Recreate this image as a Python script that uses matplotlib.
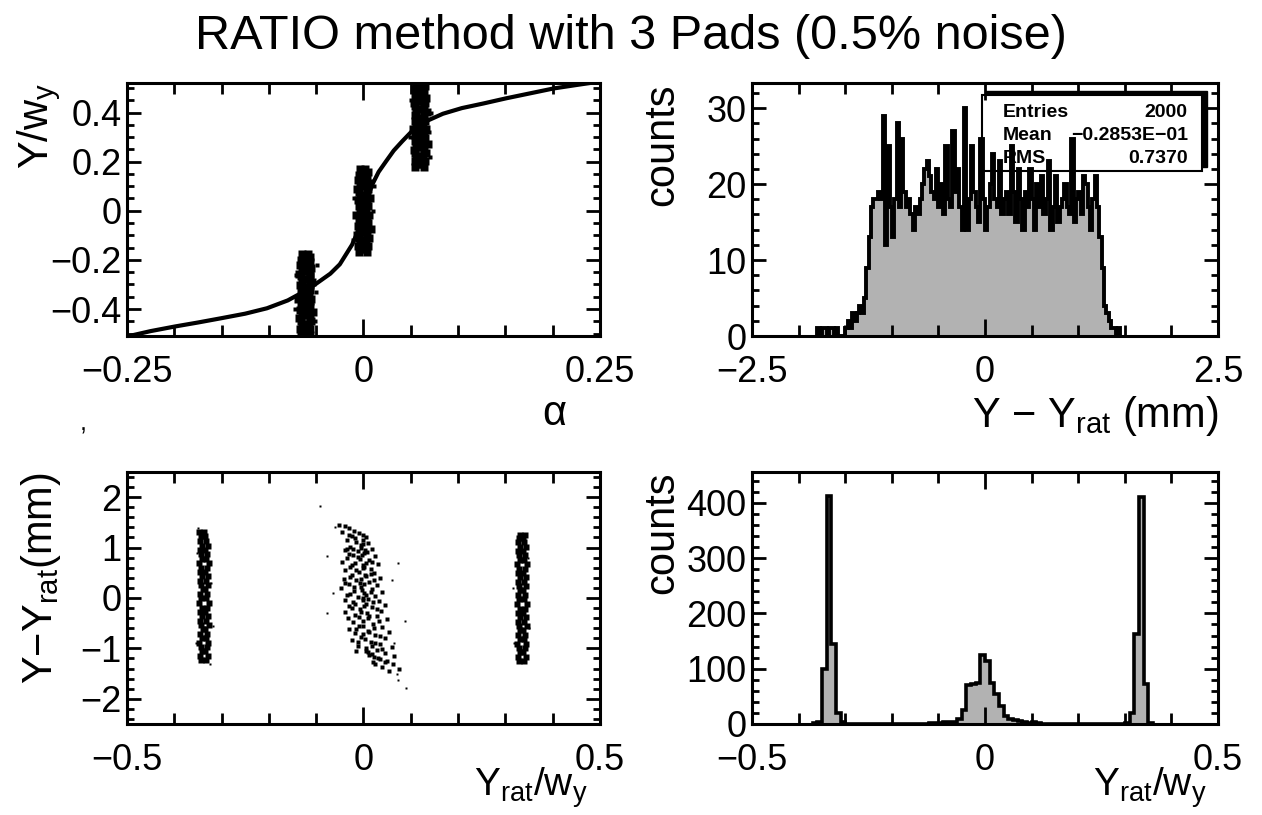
import matplotlib.pyplot as plt
import numpy as np
from matplotlib.patches import Rectangle
from matplotlib.ticker import MultipleLocator, FuncFormatter

plt.rcParams['font.family'] = ['Liberation Sans', 'DejaVu Sans']
plt.rcParams['mathtext.fontset'] = 'custom'
plt.rcParams['mathtext.rm'] = 'Liberation Sans'
plt.rcParams['mathtext.it'] = 'Liberation Sans:italic'
plt.rcParams['mathtext.default'] = 'regular'

# ---- top left: Y/w_y vs alpha ----
curve_alpha = [-0.250, -0.242, -0.225, -0.199, -0.175, -0.151, -0.125, -0.102, -0.080,
               -0.060, -0.050, -0.035, -0.025, -0.018, -0.012, -0.007, -0.001, 0.004,
               0.0095, 0.016, 0.024, 0.032, 0.041, 0.052, 0.066, 0.084, 0.104, 0.127,
               0.151, 0.176, 0.201, 0.225, 0.248]
curve_yw = [-0.512, -0.505, -0.490, -0.471, -0.455, -0.438, -0.419, -0.397, -0.365,
            -0.323, -0.297, -0.256, -0.218, -0.175, -0.138, -0.094, -0.013, 0.050,
            0.108, 0.158, 0.202, 0.245, 0.283, 0.327, 0.364, 0.395, 0.418, 0.437,
            0.458, 0.478, 0.498, 0.512, 0.525]

ya = [-0.505, -0.494, -0.482, -0.471, -0.460, -0.448, -0.437, -0.426, -0.414, -0.403,
      -0.392, -0.380, -0.369, -0.358, -0.346, -0.335, -0.324, -0.312, -0.301, -0.290,
      -0.278, -0.267, -0.256, -0.244, -0.233, -0.222, -0.210, -0.199, -0.188, -0.176]
xa1 = [-0.066, -0.064, -0.067, -0.065, -0.063, -0.066, -0.068, -0.064, -0.065, -0.067,
       -0.063, -0.066, -0.064, -0.069, -0.065, -0.063, -0.066, -0.064, -0.067, -0.065,
       -0.063, -0.066, -0.068, -0.064, -0.065, -0.067, -0.063, -0.066, -0.064, -0.065]
xa2 = [-0.057, -0.059, -0.056, -0.058, -0.060, -0.055, -0.057, -0.059, -0.053, -0.058,
       -0.056, -0.059, -0.057, -0.055, -0.058, -0.060, -0.056, -0.058, -0.057, -0.054,
       -0.059, -0.057, -0.056, -0.058, -0.055, -0.059, -0.057, -0.058, -0.056, -0.059]
yb = [-0.168, -0.156, -0.145, -0.133, -0.121, -0.110, -0.098, -0.086, -0.075, -0.063,
      -0.051, -0.040, -0.028, -0.016, -0.005, 0.007, 0.019, 0.030, 0.042, 0.054,
      0.065, 0.077, 0.089, 0.100, 0.112, 0.124, 0.135, 0.147, 0.159, 0.170]
xb1 = [-0.005, -0.003, -0.006, -0.004, -0.002, -0.005, -0.007, -0.003, -0.004, -0.006,
       -0.002, -0.005, -0.003, -0.008, -0.004, -0.002, -0.005, -0.003, -0.006, -0.004,
       -0.002, -0.005, -0.007, -0.003, -0.004, -0.006, -0.002, -0.005, -0.003, -0.004]
xb2 = [0.004, 0.002, 0.005, 0.003, 0.001, 0.006, 0.004, 0.002, 0.008, 0.003,
       0.005, 0.002, 0.004, 0.006, 0.003, 0.001, 0.005, 0.003, 0.004, 0.007,
       0.002, 0.004, 0.005, 0.003, 0.006, 0.002, 0.004, 0.003, 0.005, 0.002]
yc = [0.178, 0.190, 0.202, 0.213, 0.225, 0.237, 0.249, 0.260, 0.272, 0.284,
      0.296, 0.307, 0.319, 0.331, 0.343, 0.354, 0.366, 0.378, 0.390, 0.401,
      0.413, 0.425, 0.437, 0.448, 0.460, 0.472, 0.484, 0.495, 0.507, 0.518]
xc1 = [0.055, 0.057, 0.054, 0.056, 0.058, 0.055, 0.053, 0.057, 0.056, 0.054,
       0.058, 0.055, 0.057, 0.052, 0.056, 0.058, 0.055, 0.057, 0.054, 0.056,
       0.058, 0.055, 0.053, 0.057, 0.056, 0.054, 0.058, 0.055, 0.057, 0.056]
xc2 = [0.064, 0.062, 0.065, 0.063, 0.061, 0.066, 0.064, 0.062, 0.068, 0.063,
       0.065, 0.062, 0.064, 0.066, 0.063, 0.061, 0.065, 0.063, 0.064, 0.067,
       0.062, 0.064, 0.065, 0.063, 0.066, 0.062, 0.064, 0.063, 0.065, 0.062]
tl_out_x = [-0.072, -0.050, -0.051, -0.071, -0.049, -0.010, 0.009, 0.011, -0.011, 0.010,
            0.070, 0.049, 0.071, 0.050, 0.069]
tl_out_y = [-0.40, -0.33, -0.45, -0.26, -0.22, 0.05, -0.08, 0.10, -0.12, 0.00,
            0.22, 0.30, 0.40, 0.45, 0.32]

# ---- top right: Y - Y_rat histogram (bin 0.025 mm, first bin at -1.8) ----
dy_first = -1.8
dy_width = 0.025
dy_counts = [1, 0, 1, 1, 0, 1, 1, 0, 1, 0, 0, 0, 1, 2, 1, 3, 2, 3, 4, 3, 5,
             9, 13, 17, 18, 18, 19, 18, 29, 12, 25, 17, 13, 18, 28, 17, 26, 19, 17, 18,
             16, 14, 17, 16, 18, 20, 22, 23, 21, 19, 18, 22, 17, 20, 16, 25, 18, 17, 27,
             19, 22, 17, 14, 30, 14, 18, 25, 19, 17, 15, 26, 18, 14, 17, 20, 24, 18, 17,
             23, 16, 18, 19, 16, 25, 19, 15, 22, 18, 14, 19, 17, 22, 18, 14, 20, 17, 21,
             16, 18, 23, 14, 17, 21, 15, 17, 18, 20, 17, 16, 26, 15, 18, 19, 16, 21, 20,
             17, 14, 18, 21, 17, 13, 9, 4, 3, 2, 1, 1, 0, 1]
stat_names = ['Entries', 'Mean', 'RMS']
stat_values = ['2000', '\u22120.2853E\u221201', '0.7370']

# ---- bottom left: Y - Y_rat vs Y_rat/w_y ----
yl = [-1.24, -1.15, -1.06, -0.98, -0.89, -0.80, -0.71, -0.62, -0.54, -0.45,
      -0.36, -0.27, -0.19, -0.10, -0.01, 0.08, 0.17, 0.25, 0.34, 0.43,
      0.52, 0.60, 0.69, 0.78, 0.87, 0.96, 1.04, 1.13, 1.22, 1.30]
xl1 = [-0.343, -0.346, -0.341, -0.344, -0.347, -0.342, -0.345, -0.340, -0.344, -0.346,
       -0.342, -0.345, -0.341, -0.347, -0.343, -0.345, -0.340, -0.344, -0.346, -0.342,
       -0.345, -0.343, -0.347, -0.341, -0.344, -0.346, -0.342, -0.345, -0.343, -0.348]
xl2 = [-0.332, -0.329, -0.334, -0.331, -0.328, -0.333, -0.330, -0.335, -0.327, -0.332,
       -0.329, -0.334, -0.331, -0.326, -0.333, -0.330, -0.335, -0.328, -0.332, -0.329,
       -0.334, -0.331, -0.327, -0.333, -0.330, -0.335, -0.329, -0.332, -0.334, -0.338]
yr = [-1.26, -1.17, -1.08, -0.99, -0.91, -0.82, -0.73, -0.64, -0.56, -0.47,
      -0.38, -0.29, -0.21, -0.12, -0.03, 0.06, 0.15, 0.23, 0.32, 0.41,
      0.50, 0.58, 0.67, 0.76, 0.85, 0.94, 1.02, 1.11, 1.19, 1.25]
xr1 = [0.329, 0.326, 0.331, 0.328, 0.325, 0.330, 0.327, 0.332, 0.328, 0.326,
       0.330, 0.327, 0.331, 0.325, 0.329, 0.327, 0.332, 0.328, 0.326, 0.330,
       0.327, 0.329, 0.325, 0.331, 0.328, 0.326, 0.330, 0.327, 0.329, 0.330]
xr2 = [0.340, 0.343, 0.338, 0.341, 0.344, 0.339, 0.342, 0.337, 0.345, 0.340,
       0.343, 0.338, 0.341, 0.346, 0.339, 0.342, 0.337, 0.344, 0.340, 0.343,
       0.338, 0.341, 0.345, 0.339, 0.342, 0.337, 0.343, 0.340, 0.338, 0.341]
mid_x = [-0.052, -0.040, -0.030, -0.020, -0.045, -0.010, -0.025, 0.005, -0.035, -0.015,
         0.010, -0.005, -0.028, 0.018, -0.040, -0.012, 0.002, -0.022, 0.025, -0.034,
         -0.008, 0.012, -0.045, -0.018, 0.030, 0.000, -0.028, 0.015, -0.038, -0.010,
         0.022, -0.025, 0.005, 0.035, -0.042, -0.015, 0.012, -0.030, 0.028, -0.005,
         -0.048, 0.018, -0.020, 0.040, 0.002, -0.035, 0.025, -0.012, 0.010, -0.040,
         0.032, -0.022, 0.005, 0.045, -0.030, 0.018, -0.008, 0.038, -0.040, 0.008,
         -0.018, 0.028, -0.032, 0.050, 0.000, -0.022, 0.020, -0.010, 0.040, -0.030,
         0.010, 0.055, -0.018, 0.025, -0.005, 0.045, -0.025, 0.015, 0.035, -0.012,
         0.060, 0.005, 0.028, -0.015, 0.045, 0.012, 0.065, 0.030, 0.050, 0.020,
         0.062, 0.040, 0.075, 0.055,
         -0.002, 0.000, -0.006, 0.004, -0.004, 0.006, -0.002, 0.004, -0.006, 0.002,
         -0.004, 0.006, -0.002, 0.002, -0.005, 0.010, 0.000, 0.012, 0.004, 0.018,
         0.010, 0.022,
         -0.030, -0.018, 0.000, -0.022, 0.008, -0.030, -0.012, 0.018, -0.025, 0.002,
         -0.015, 0.015, -0.028, 0.022, -0.008, -0.020, 0.015, -0.028, 0.000, 0.020,
         -0.018, 0.028, -0.025, 0.012, -0.010, 0.032, -0.015, 0.022, 0.000, 0.035,
         -0.012, 0.025, 0.005, 0.040, 0.018, 0.035, 0.025, 0.045, -0.035, -0.040]
mid_y = [1.45, 1.42, 1.38, 1.33, 1.30, 1.28, 1.22, 1.20, 1.15, 1.12,
         1.10, 1.05, 1.02, 0.98, 0.95, 0.93, 0.90, 0.86, 0.84, 0.80,
         0.78, 0.75, 0.72, 0.70, 0.68, 0.65, 0.62, 0.58, 0.55, 0.52,
         0.50, 0.46, 0.43, 0.40, 0.38, 0.35, 0.32, 0.28, 0.25, 0.22,
         0.20, 0.18, 0.14, 0.12, 0.10, 0.06, 0.04, 0.02, -0.02, -0.04,
         -0.06, -0.08, -0.12, -0.14, -0.16, -0.18, -0.22, -0.25, -0.27, -0.30,
         -0.33, -0.36, -0.40, -0.42, -0.45, -0.48, -0.52, -0.56, -0.58, -0.62,
         -0.65, -0.68, -0.70, -0.74, -0.78, -0.80, -0.84, -0.88, -0.92, -0.95,
         -0.98, -1.00, -1.04, -1.06, -1.10, -1.13, -1.16, -1.20, -1.25, -1.28,
         -1.32, -1.36, -1.40, -1.45,
         1.25, 1.15, 1.00, 0.95, 0.85, 0.70, 0.60, 0.45, 0.38, 0.28,
         0.15, 0.05, -0.05, -0.15, -0.28, -0.40, -0.55, -0.68, -0.82, -0.95,
         -1.08, -1.18,
         1.25, 1.18, 1.08, 0.98, 0.92, 0.88, 0.82, 0.72, 0.66, 0.62,
         0.55, 0.48, 0.42, 0.36, 0.30, 0.22, 0.12, 0.08, 0.00, -0.08,
         -0.12, -0.22, -0.20, -0.35, -0.38, -0.45, -0.62, -0.60, -0.72, -0.75,
         -0.88, -0.90, -1.05, -1.02, -1.12, -1.22, -1.32, -1.28, 0.98, 0.30]
bl_out_x = [-0.091, -0.078, -0.078, 0.074, 0.087, 0.060, 0.074, 0.091, 0.070, -0.060,
            -0.065, 0.065, -0.352, -0.322, -0.318, -0.353, -0.325, -0.350,
            0.316, 0.350, 0.348, 0.318]
bl_out_y = [1.82, 0.83, -0.30, 0.70, -0.46, 0.35, -1.62, -1.79, -1.50, 1.40,
            0.10, -0.90, 0.90, 0.30, -0.55, -0.90, -1.32, 1.38,
            0.20, -0.60, 0.80, -0.90]

# ---- bottom right: Y_rat/w_y histogram (bin 0.01, first bin at -0.37) ----
yr_first = -0.37
yr_width = 0.01
yr_counts = [1, 3, 100, 412, 145, 20, 3, 0, 0, 0,
             0, 0, 0, 0, 0, 0, 0, 0, 0, 0,
             0, 0, 0, 0, 0, 1, 2, 2, 3, 3,
             4, 9, 26, 70, 72, 75, 125, 114, 74, 55,
             33, 14, 9, 7, 5, 3, 2, 4, 1, 0,
             0, 0, 0, 0, 0, 0, 0, 0, 0, 0,
             0, 0, 0, 0, 0, 0, 0, 2, 20, 162,
             411, 72, 2]


def tick_fmt(v, pos):
    if abs(v) < 1e-9:
        return '0'
    return ('%g' % v).replace('-', '\u2212')


fig = plt.figure(figsize=(12.62, 8.15), dpi=100)
ax_tl = fig.add_axes([0.1006, 0.5877, 0.3748, 0.3104])
ax_tr = fig.add_axes([0.5959, 0.5877, 0.3693, 0.3104])
ax_bl = fig.add_axes([0.1006, 0.1117, 0.3748, 0.3092])
ax_br = fig.add_axes([0.5959, 0.1117, 0.3693, 0.3092])

fill_col = '#b2b2b2'

# top left
ax_tl.plot(xa1 + xa2, ya + ya, 's', ms=5.2, color='k', mec='none')
ax_tl.plot(xb1 + xb2, yb + yb, 's', ms=5.2, color='k', mec='none')
ax_tl.plot(xc1 + xc2, yc + yc, 's', ms=5.2, color='k', mec='none')
ax_tl.plot(tl_out_x, tl_out_y, 's', ms=2.2, color='k', mec='none')
ax_tl.plot(curve_alpha, curve_yw, color='k', lw=3)
ax_tl.set_xlim(-0.25, 0.25)
ax_tl.set_ylim(-0.51, 0.52)
ax_tl.xaxis.set_major_locator(MultipleLocator(0.25))
ax_tl.xaxis.set_minor_locator(MultipleLocator(0.05))
ax_tl.yaxis.set_major_locator(MultipleLocator(0.2))
ax_tl.yaxis.set_minor_locator(MultipleLocator(0.05))
ax_tl.set_ylabel('Y/w$_y$', loc='top')
ax_tl.yaxis.set_label_coords(-0.135, 1.0)
ax_tl.set_xlabel(r'$\alpha$', loc='right')
ax_tl.xaxis.set_label_coords(0.93, -0.23)

# top right
dy_edges = dy_first + dy_width * np.arange(len(dy_counts) + 1)
ax_tr.stairs(dy_counts, dy_edges, fill=True, color=fill_col)
ax_tr.stairs(dy_counts, dy_edges, color='k', lw=2.8)
ax_tr.set_xlim(-2.5, 2.5)
ax_tr.set_ylim(0, 33.3)
ax_tr.xaxis.set_major_locator(MultipleLocator(2.5))
ax_tr.xaxis.set_minor_locator(MultipleLocator(0.5))
ax_tr.yaxis.set_major_locator(MultipleLocator(10))
ax_tr.yaxis.set_minor_locator(MultipleLocator(2))
ax_tr.set_ylabel('counts', loc='top')
ax_tr.yaxis.set_label_coords(-0.15, 1.0)
ax_tr.set_xlabel('Y $-$ Y$_{rat}$ (mm)', loc='right')
ax_tr.xaxis.set_label_coords(1.0, -0.23)
ax_tr.add_patch(Rectangle((0.503, 0.668), 0.473, 0.301, transform=ax_tr.transAxes,
                          facecolor='k', edgecolor='k', zorder=0.4))
ax_tr.add_patch(Rectangle((0.493, 0.653), 0.473, 0.301, transform=ax_tr.transAxes,
                          facecolor='white', edgecolor='k', lw=1.5, zorder=0.5))
for i, (name, val) in enumerate(zip(stat_names, stat_values)):
    yy = 0.882 - 0.09 * i
    ax_tr.text(0.538, yy, name, transform=ax_tr.transAxes, fontsize=14,
               fontweight='bold', va='center', ha='left', zorder=6)
    ax_tr.text(0.935, yy, val, transform=ax_tr.transAxes, fontsize=14,
               fontweight='bold', va='center', ha='right', zorder=6)

# bottom left
ax_bl.plot(xl1 + xl2, yl + yl, 's', ms=4.0, color='k', mec='none')
ax_bl.plot(xr1 + xr2, yr + yr, 's', ms=4.0, color='k', mec='none')
ax_bl.plot(mid_x, mid_y, 's', ms=3.3, color='k', mec='none')
ax_bl.plot(bl_out_x, bl_out_y, 's', ms=2.0, color='k', mec='none')
ax_bl.set_xlim(-0.5, 0.5)
ax_bl.set_ylim(-2.5, 2.5)
ax_bl.xaxis.set_major_locator(MultipleLocator(0.5))
ax_bl.xaxis.set_minor_locator(MultipleLocator(0.1))
ax_bl.yaxis.set_major_locator(MultipleLocator(1))
ax_bl.yaxis.set_minor_locator(MultipleLocator(0.2))
ax_bl.set_ylabel('Y$-$Y$_{rat}$(mm)', loc='top')
ax_bl.yaxis.set_label_coords(-0.135, 1.0)
ax_bl.set_xlabel('Y$_{rat}$/w$_y$', loc='right')
ax_bl.xaxis.set_label_coords(0.975, -0.165)

# bottom right
yr_edges = yr_first + yr_width * np.arange(len(yr_counts) + 1)
ax_br.stairs(yr_counts, yr_edges, fill=True, color=fill_col)
ax_br.stairs(yr_counts, yr_edges, color='k', lw=2.6)
ax_br.set_xlim(-0.5, 0.5)
ax_br.set_ylim(0, 456)
ax_br.xaxis.set_major_locator(MultipleLocator(0.5))
ax_br.xaxis.set_minor_locator(MultipleLocator(0.1))
ax_br.yaxis.set_major_locator(MultipleLocator(100))
ax_br.yaxis.set_minor_locator(MultipleLocator(20))
ax_br.set_ylabel('counts', loc='top')
ax_br.yaxis.set_label_coords(-0.15, 1.0)
ax_br.set_xlabel('Y$_{rat}$/w$_y$', loc='right')
ax_br.xaxis.set_label_coords(0.975, -0.165)

for ax in (ax_tl, ax_tr, ax_bl, ax_br):
    for s in ax.spines.values():
        s.set_linewidth(2.2)
    ax.xaxis.set_major_formatter(FuncFormatter(tick_fmt))
    ax.yaxis.set_major_formatter(FuncFormatter(tick_fmt))
    ax.tick_params(which='both', direction='in', top=True, right=True,
                   width=2, labelsize=26)
    ax.tick_params(axis='x', which='major', length=12, pad=14)
    ax.tick_params(axis='x', which='minor', length=8)
    ax.tick_params(axis='y', which='major', length=10, pad=4)
    ax.tick_params(axis='y', which='minor', length=5)
    ax.xaxis.label.set_size(30)
    ax.yaxis.label.set_size(30)
ax_bl.xaxis.label.set_size(28)
ax_br.xaxis.label.set_size(28)

fig.text(0.5, 0.955, 'RATIO method with 3 Pads (0.5% noise)', fontsize=35,
         ha='center', va='center')
fig.text(0.066, 0.48, ',', fontsize=18, ha='center', va='center')

fig.savefig('out.png', dpi=100)
